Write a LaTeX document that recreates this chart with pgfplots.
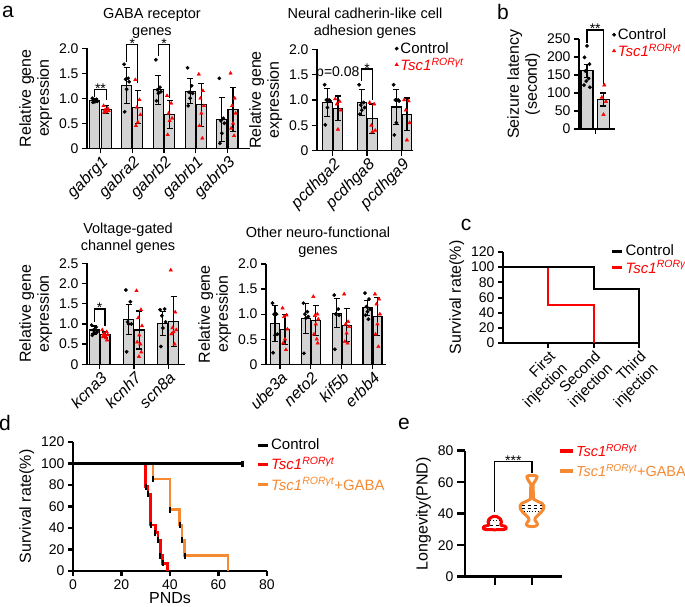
\documentclass[border=0pt]{standalone}
\usepackage{fontspec}
\setmainfont{Liberation Sans}
\usepackage{pgfplots}
\pgfplotsset{compat=1.18}
\definecolor{barg}{RGB}{211,211,211}
\definecolor{orgC}{RGB}{245,138,50}
\newcommand{\tsc}{\textit{Tsc1\textsuperscript{RORγt}}}
\newcommand{\tickfont}{\fontsize{14}{14}\selectfont}
\newcommand{\xtickfont}{\fontsize{16}{16}\selectfont}
\newcommand{\labfont}{\fontsize{16}{18}\selectfont}
\newcommand{\legfont}{\fontsize{15}{17}\selectfont}
\newcommand{\titfont}{\fontsize{14.5}{17.5}\selectfont}
\pgfplotsset{
  panel/.style={scale only axis, anchor=south west,
    axis x line*=bottom, axis y line*=left, tick align=outside, clip=false,
    axis line style={line width=1.3pt}, tick style={line width=1.3pt, black},
    major tick length=5pt,
    /pgf/number format/assume math mode=true,
    tick label style={font=\tickfont},
    label style={font=\labfont},
    ylabel style={align=center},
    legend style={draw=none, fill=none, font=\legfont, inner sep=0pt, cells={anchor=west}, row sep=-1pt},
  },
  barax/.style={panel, ymin=0,
    xticklabel style={rotate=45, anchor=north east, inner sep=1pt, font=\xtickfont\itshape}},
  bar/.style={ybar, bar width=10pt, bar shift=0pt, fill=barg, draw=black, line width=1.2pt, forget plot},
  err/.style={draw=none, forget plot, error bars/.cd, y dir=both, y explicit,
    error bar style={black, line width=1.2pt},
    error mark options={black, rotate=90, mark size=3pt, line width=1.2pt}},
  ctrl/.style={only marks, mark=*, mark size=1.7pt, black},
  tscm/.style={only marks, mark=triangle*, mark size=2pt, red},
  markleg/.style={legend image code/.code={\draw[mark repeat=2,mark phase=2,##1] plot coordinates {(-3pt,0pt)(0pt,0pt)(3pt,0pt)};}},
  lineleg/.style={legend image code/.code={\draw[##1, line width=3pt] (0pt,0pt) -- (10pt,0pt);}},
}
\begin{document}
\begin{tikzpicture}[x=1pt,y=1pt]
\useasboundingbox (0,0) rectangle (685,606);
% panel letters
\node[font=\fontsize{21}{21}\selectfont] at (8,594) {a};
\node[font=\fontsize{21}{21}\selectfont] at (503,594) {b};
\node[font=\fontsize{21}{21}\selectfont] at (466,381) {c};
\node[font=\fontsize{21}{21}\selectfont] at (5,183) {d};
\node[font=\fontsize{21}{21}\selectfont] at (404,182) {e};
% titles
\node[font=\titfont, align=center] at (152,582.5) {GABA receptor\\genes};
\node[font=\titfont, align=center] at (365,582.5) {Neural cadherin-like cell\\adhesion genes};
\node[font=\titfont, align=center] at (128,367.5) {Voltage-gated\\channel genes};
\node[font=\titfont, align=center] at (318,363.5) {Other neuro-functional\\genes};

% ---------- a1 GABA
\begin{axis}[barax, at={(87pt,457.7pt)}, width=163pt, height=100pt,
  xmin=-0.425, xmax=4.71, ymax=2,
  ytick={0,0.5,1,1.5,2}, yticklabels={0,0.5,1.0,1.5,2.0},
  xtick={0,1,2,3,4}, xticklabels={gabrg1,gabra2,gabrb2,gabrb1,gabrb3},
  ylabel={Relative gene\\expression}]
\addplot[bar] coordinates {(-0.177,0.96) (0.823,1.26) (1.823,1.17) (2.823,1.14) (3.823,0.58)};
\addplot[bar] coordinates {(0.177,0.78) (1.177,0.82) (2.177,0.68) (3.177,0.87) (4.177,0.78)};
\addplot[err] coordinates {(-0.177,0.96) +- (0,0.04) (0.823,1.26) +- (0,0.36) (1.823,1.17) +- (0,0.29) (2.823,1.14) +- (0,0.25) (3.823,0.58) +- (0,0.44)};
\addplot[err] coordinates {(0.177,0.78) +- (0,0.08) (1.177,0.82) +- (0,0.33) (2.177,0.68) +- (0,0.28) (3.177,0.87) +- (0,0.43) (4.177,0.78) +- (0,0.44)};
\addplot[ctrl] coordinates {(-0.257,1.00) (-0.127,0.98) (-0.207,0.96) (-0.097,0.94) (-0.177,0.93) (-0.237,0.92)
(0.743,1.68) (0.873,1.40) (0.793,1.38) (0.903,1.33) (0.823,1.18) (0.763,0.73)
(1.743,1.77) (1.873,1.22) (1.793,1.17) (1.903,1.13) (1.823,1.10) (1.763,0.95)
(2.743,1.61) (2.873,1.25) (2.793,1.12) (2.903,1.10) (2.823,1.00) (2.763,0.85)
(3.743,1.40) (3.873,0.60) (3.793,0.55) (3.903,0.50) (3.823,0.30) (3.763,0.10)};
\addplot[tscm] coordinates {(0.097,0.85) (0.227,0.80) (0.147,0.77) (0.257,0.75) (0.177,0.73) (0.117,0.72)
(1.097,1.37) (1.227,0.97) (1.147,0.82) (1.257,0.67) (1.177,0.52) (1.117,0.45)
(2.097,1.05) (2.227,0.90) (2.147,0.70) (2.257,0.60) (2.177,0.55) (2.117,0.27)
(3.097,1.48) (3.227,1.15) (3.147,1.00) (3.257,0.85) (3.177,0.70) (3.117,0.45) (3.207,0.20)
(4.097,1.50) (4.227,1.00) (4.147,0.85) (4.257,0.70) (4.177,0.50) (4.117,0.40) (4.207,0.25)};
\draw[line width=1.2pt] (axis cs:-0.177,1.03) -- (axis cs:-0.177,1.17) -- (axis cs:0.177,1.17) -- (axis cs:0.177,0.97);
\node[font=\tickfont, anchor=base, yshift=-4pt] at (axis cs:0,1.17) {**};
\draw[line width=1.2pt] (axis cs:0.823,1.72) -- (axis cs:0.823,2.07) -- (axis cs:1.177,2.07) -- (axis cs:1.177,1.30);
\node[font=\tickfont, anchor=base, yshift=-4pt] at (axis cs:1,2.07) {*};
\draw[line width=1.2pt] (axis cs:1.823,1.85) -- (axis cs:1.823,2.07) -- (axis cs:2.177,2.07) -- (axis cs:2.177,1.0);
\node[font=\tickfont, anchor=base, yshift=-4pt] at (axis cs:2,2.07) {*};
\end{axis}

% ---------- a2 cadherin
\begin{axis}[barax, markleg, at={(317pt,455.3pt)}, width=96pt, height=101.4pt,
  xmin=-0.454, xmax=2.33, ymax=2,
  ytick={0,0.5,1,1.5,2}, yticklabels={0,0.5,1.0,1.5,2.0},
  xtick={0,1,2}, xticklabels={pcdhga2,pcdhga8,pcdhga9},
  ylabel={Relative gene\\expression},
  legend style={at={(0.81,1.09)}, anchor=north west}]
\addplot[bar, bar width=9.5pt] coordinates {(-0.153,0.95) (0.847,0.95) (1.847,0.86)};
\addplot[bar, bar width=9.5pt] coordinates {(0.153,0.84) (1.153,0.63) (2.153,0.72)};
\addplot[err] coordinates {(-0.153,0.95) +- (0,0.27) (0.847,0.95) +- (0,0.25) (1.847,0.86) +- (0,0.34)};
\addplot[err] coordinates {(0.153,0.84) +- (0,0.24) (1.153,0.63) +- (0,0.29) (2.153,0.72) +- (0,0.32)};
\addplot[ctrl] coordinates {(-0.233,1.30) (-0.103,1.00) (-0.183,1.00) (-0.073,0.98) (-0.153,0.85) (-0.213,0.51)
(0.767,1.30) (0.897,0.95) (0.817,0.90) (0.927,0.85) (0.847,0.80) (0.787,0.72)
(1.767,1.30) (1.897,1.00) (1.817,1.00) (1.927,0.98) (1.847,0.55) (1.787,0.31)};
\addlegendentry{Control}
\addplot[tscm] coordinates {(0.073,1.02) (0.203,0.97) (0.123,0.92) (0.233,0.80) (0.153,0.42)
(1.073,0.95) (1.203,0.92) (1.123,0.50) (1.233,0.40) (1.153,0.37)
(2.073,1.00) (2.203,0.98) (2.123,0.80) (2.233,0.55) (2.153,0.21)};
\addlegendentry{\textcolor{red}{\tsc}}
\draw[line width=1.2pt] (axis cs:0.847,1.38) -- (axis cs:0.847,1.61) -- (axis cs:1.153,1.61) -- (axis cs:1.153,1.0);
\node[font=\tickfont, anchor=base, yshift=-4pt] at (axis cs:1,1.61) {*};
\node[font=\tickfont] at (axis cs:0.15,1.53) {p=0.08};
\end{axis}

% ---------- b seizure
\begin{axis}[panel, markleg, at={(579pt,477pt)}, width=36pt, height=90pt,
  xmin=0.515, xmax=2.7, ymin=0, ymax=250,
  ytick={0,50,...,250}, xtick={1.5}, xticklabels={},
  ylabel={Seizure latency\\(second)},
  legend style={at={(0.92,1.14)}, anchor=north west}]
\addplot[bar, bar width=12pt] coordinates {(1,162) (2,82)};
\addplot[err] coordinates {(1,162) +- (0,18) (2,82) +- (0,18)};
\addplot[ctrl] coordinates {(1.0,231) (0.85,199) (1.15,180) (0.9,161) (1.1,140) (0.95,133) (0.82,122) (1.18,116)};
\addlegendentry{Control}
\addplot[tscm] coordinates {(2.05,122) (1.9,88) (2.15,76) (2.0,40)};
\addlegendentry{\textcolor{red}{\tsc}}
\draw[line width=1.2pt] (axis cs:1,240) -- (axis cs:1,275) -- (axis cs:2,275) -- (axis cs:2,125);
\node[font=\tickfont, anchor=base, yshift=-4pt] at (axis cs:1.5,275) {**};
\end{axis}

% ---------- a3 voltage
\begin{axis}[barax, at={(87pt,241.7pt)}, width=98pt, height=101pt,
  xmin=-0.37, xmax=2.49, ymax=2.5,
  ytick={0,0.5,1,1.5,2,2.5}, yticklabels={0,0.5,1.0,1.5,2.0,2.5},
  xtick={0,1,2}, xticklabels={kcna3,kcnh7,scn8a},
  ylabel={Relative gene\\expression}]
\addplot[bar] coordinates {(-0.155,0.85) (0.845,1.11) (1.845,1.01)};
\addplot[bar] coordinates {(0.155,0.73) (1.155,0.85) (2.155,1.06)};
\addplot[err] coordinates {(-0.155,0.85) +- (0,0.10) (0.845,1.11) +- (0,0.38) (1.845,1.01) +- (0,0.29)};
\addplot[err] coordinates {(0.155,0.73) +- (0,0.07) (1.155,0.85) +- (0,0.47) (2.155,1.06) +- (0,0.61)};
\addplot[ctrl] coordinates {(-0.235,0.97) (-0.105,0.92) (-0.185,0.85) (-0.075,0.80) (-0.155,0.78) (-0.215,0.72)
(0.765,1.84) (0.895,1.55) (0.815,1.05) (0.925,1.00) (0.845,1.00) (0.785,0.31)
(1.765,1.35) (1.895,1.37) (1.815,1.20) (1.925,1.05) (1.845,0.90) (1.785,0.44)};
\addplot[tscm] coordinates {(0.075,0.85) (0.205,0.80) (0.125,0.76) (0.235,0.73) (0.155,0.71) (0.095,0.68) (0.185,0.65) (0.215,0.60)
(1.075,1.82) (1.205,1.35) (1.125,1.15) (1.235,0.95) (1.155,0.72) (1.095,0.55) (1.185,0.50) (1.215,0.30) (1.145,0.19)
(2.075,2.33) (2.205,1.29) (2.125,0.90) (2.235,0.85) (2.155,0.80) (2.095,0.75) (2.185,0.50)};
\draw[line width=1.2pt] (axis cs:-0.155,1.05) -- (axis cs:-0.155,1.37) -- (axis cs:0.155,1.37) -- (axis cs:0.155,0.95);
\node[font=\tickfont, anchor=base, yshift=-4pt] at (axis cs:0,1.37) {*};
\end{axis}

% ---------- a4 other
\begin{axis}[barax, at={(266pt,241.7pt)}, width=120pt, height=100.3pt,
  xmin=-0.455, xmax=3.44, ymax=2,
  ytick={0,0.5,1,1.5,2}, yticklabels={0,0.5,1.0,1.5,2.0},
  xtick={0,1,2,3}, xticklabels={ube3a,neto2,kif5b,erbb4},
  ylabel={Relative gene\\expression}]
\addplot[bar, bar width=9pt] coordinates {(-0.162,0.82) (0.838,0.92) (1.838,1.02) (2.838,1.13)};
\addplot[bar, bar width=9pt] coordinates {(0.162,0.70) (1.162,0.88) (2.162,0.78) (3.162,0.96)};
\addplot[err] coordinates {(-0.162,0.82) +- (0,0.36) (0.838,0.92) +- (0,0.30) (1.838,1.02) +- (0,0.29) (2.838,1.13) +- (0,0.15)};
\addplot[err] coordinates {(0.162,0.70) +- (0,0.30) (1.162,0.88) +- (0,0.30) (2.162,0.78) +- (0,0.33) (3.162,0.96) +- (0,0.38)};
\addplot[ctrl] coordinates {(-0.242,1.22) (-0.112,1.00) (-0.192,1.00) (-0.082,0.60) (-0.162,0.58) (-0.222,0.23)
(0.758,1.22) (0.888,1.05) (0.808,1.00) (0.918,0.95) (0.838,0.92) (0.778,0.22)
(1.758,1.38) (1.888,1.10) (1.808,1.00) (1.918,0.98) (1.778,0.30)
(2.758,1.42) (2.888,1.30) (2.808,1.15) (2.918,1.10) (2.838,1.05) (2.778,0.98) (2.868,0.90)};
\addplot[tscm] coordinates {(0.082,1.12) (0.212,0.98) (0.132,0.95) (0.242,0.70) (0.162,0.50) (0.102,0.42) (0.192,0.29)
(1.082,1.35) (1.212,1.00) (1.132,0.97) (1.242,0.90) (1.162,0.80) (1.102,0.60) (1.192,0.50) (1.222,0.42)
(2.082,1.40) (2.212,0.85) (2.132,0.80) (2.242,0.75) (2.162,0.62) (2.102,0.45) (2.192,0.42)
(3.082,1.40) (3.212,1.30) (3.132,1.20) (3.242,1.00) (3.162,0.80) (3.102,0.60) (3.192,0.35)};
\end{axis}

% ---------- c survival injections
\begin{axis}[panel, lineleg, at={(503pt,263pt)}, width=136pt, height=91pt,
  xmin=0, xmax=3, ymin=0, ymax=120,
  xtick={1,2,3}, xticklabels={{First\\injection},{Second\\injection},{Third\\injection}},
  xticklabel style={rotate=45, anchor=north east, align=right, inner sep=1pt, font=\fontsize{15}{17}\selectfont},
  ytick={0,20,...,120},
  axis line style={line width=2pt}, tick style={line width=2pt},
  ylabel={Survival rate(\%)},
  legend style={at={(0.79,1.1)}, anchor=north west}]
\addlegendimage{black}\addlegendentry{Control}
\addlegendimage{red}\addlegendentry{\textcolor{red}{\tsc}}
\addplot[const plot, red, line width=2pt, forget plot] coordinates {(0,100) (1,50) (2,0)};
\addplot[const plot, black, line width=2pt, forget plot] coordinates {(0,100) (2,71.4) (3,0)};
\end{axis}

% ---------- d survival PND
\begin{axis}[panel, lineleg, at={(73pt,35pt)}, width=194pt, height=129pt,
  xmin=0, xmax=80, ymin=0, ymax=120,
  xtick={0,20,...,80}, ytick={0,20,...,120},
  axis line style={line width=2.5pt}, tick style={line width=2.5pt},
  xlabel={PNDs}, xlabel style={yshift=4pt}, ylabel={Survival rate(\%)},
  legend style={at={(0.943,1.04)}, anchor=north west, row sep=2pt}]
\addlegendimage{black}\addlegendentry{Control}
\addlegendimage{red}\addlegendentry{\textcolor{red}{\tsc}}
\addlegendimage{orgC}\addlegendentry{\textcolor{orgC}{\tsc+GABA}}
\addplot[const plot, red, line width=2.5pt, mark=|, mark size=3pt, mark options={black, line width=2pt}, mark indices={2,3,4,5,6,7,8}, forget plot] coordinates {(0,100) (30,78.6) (31,71.4) (32,42.9) (34,35.7) (35,28.6) (36,14.3) (37,7.1) (39,0)};
\addplot[const plot, orgC, line width=2.5pt, mark=|, mark size=3pt, mark options={black, line width=2pt}, mark indices={2,3,4,5,6}, forget plot] coordinates {(0,100) (33,85.7) (40,57.1) (44,42.9) (45,28.6) (46,14.3) (64,0)};
\addplot[const plot, black, line width=2.5pt, mark=|, mark size=3pt, mark indices={2}, forget plot] coordinates {(0,100) (70,100)};
\end{axis}

% ---------- e violin
\begin{axis}[panel, at={(465pt,29.3pt)}, width=96.7pt, height=126pt,
  xmin=0.2, xmax=2.8, ymin=0, ymax=80,
  ytick={0,20,...,80}, xtick={1,2}, xticklabels={},
  major tick length=8pt,
  axis line style={line width=2.5pt}, tick style={line width=2.5pt},
  ylabel={Longevity(PND)},
  legend style={at={(0.96,1.06)}, anchor=north west, row sep=4pt, font=\fontsize{14.5}{16}\selectfont, nodes={inner sep=1pt}},
  legend image code/.code={\draw[#1, line width=4pt] (0pt,0pt) -- (13pt,0pt);}]
\addlegendimage{red}\addlegendentry{\textcolor{red}{\tsc}}
\addlegendimage{orgC}\addlegendentry{\textcolor{orgC}{\tsc+GABA}}
\addplot[draw=red, fill=white, line width=3pt, line join=round, forget plot] coordinates {(1,29.8) (1.24,29.9) (1.30,30.4) (1.31,31.3) (1.27,32.1) (1.17,32.6) (1.16,33.4) (1.18,34.8) (1.16,36.3) (1.12,37.3) (1.06,38.1) (1.00,38.4) (0.94,38.1) (0.88,37.3) (0.84,36.3) (0.82,34.8) (0.84,33.4) (0.83,32.6) (0.73,32.1) (0.69,31.3) (0.70,30.4) (0.76,29.9)} -- cycle;
\addplot[draw=orgC, fill=white, line width=3pt, line join=round, forget plot] coordinates {(2,31.8) (2.10,32.1) (2.15,33.0) (2.13,34.5) (2.08,35.8) (2.09,37.3) (2.16,39.0) (2.25,41.0) (2.31,43.0) (2.32,45.0) (2.27,46.6) (2.14,48.0) (2.04,49.3) (2.03,58.8) (2.08,60.5) (2.12,62.2) (2.14,63.6) (2.10,64.1) (2.0,64.2) (1.90,64.1) (1.86,63.6) (1.88,62.2) (1.92,60.5) (1.97,58.8) (1.96,49.3) (1.86,48.0) (1.73,46.6) (1.68,45.0) (1.69,43.0) (1.75,41.0) (1.84,39.0) (1.91,37.3) (1.92,35.8) (1.87,34.5) (1.85,33.0) (1.90,32.1)} -- cycle;
\addplot[black, dashed, line width=0.8pt, forget plot] coordinates {(0.86,32.4) (1.14,32.4)};
\addplot[black, dotted, line width=0.8pt, forget plot] coordinates {(0.88,35.5) (1.12,35.5)};
\addplot[black, dashed, line width=0.8pt, forget plot] coordinates {(1.74,45.3) (2.26,45.3)};
\addplot[black, dashed, line width=0.8pt, forget plot] coordinates {(1.72,43.6) (2.28,43.6)};
\addplot[black, dotted, line width=0.8pt, forget plot] coordinates {(1.78,41.5) (2.22,41.5)};
\draw[line width=1.2pt] (axis cs:1,41) -- (axis cs:1,73) -- (axis cs:2,73) -- (axis cs:2,66);
\node[font=\tickfont, anchor=base, yshift=-4pt] at (axis cs:1.5,73) {***};
\end{axis}
\end{tikzpicture}
\end{document}
